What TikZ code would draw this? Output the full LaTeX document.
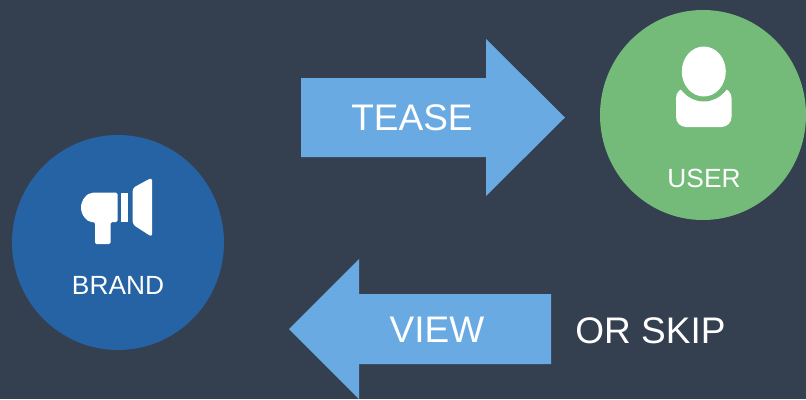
\documentclass[tikz,border=0pt]{standalone}
\usepackage{fontspec}
\setmainfont{Liberation Sans}
\usetikzlibrary{shapes.geometric}
\definecolor{slatebg}{HTML}{344050}
\definecolor{brandblue}{HTML}{2563A5}
\definecolor{usergreen}{HTML}{74BB7A}
\definecolor{arrowblue}{HTML}{6AAAE2}
\begin{document}
\begin{tikzpicture}
[x=1pt,y=-1pt,bigtext/.style = {text = white, font = \fontsize{37}{40}\selectfont, inner sep = 0pt},
smalltext/.style = {text = white, font = \fontsize{26.3}{30}\selectfont, inner sep = 0pt},
bubble/.style = {ellipse, inner sep = 0pt, draw = none},
block/.style = {fill = arrowblue, draw = none},
icon/.style = {fill = white, draw = none, rounded corners = 1.5pt},]

\useasboundingbox (0,0) rectangle (806,399);
\fill [slatebg] (0,0) rectangle (806,399);

\node (brand) at (118,242.5)[bubble, fill = brandblue, minimum width = 212pt, minimum height = 215pt] {};
\node (user) at (703,115)[bubble, fill = usergreen, minimum width = 206pt, minimum height = 210pt] {};

\fill [block] (301,78) -- (486,78) -- (486,39) -- (565,117.5) -- (486,196) -- (486,157) -- (301,157) -- cycle;
\fill [block] (289,329) -- (359,259) -- (359,294) -- (551,294) -- (551,364) -- (359,364) -- (359,399) -- cycle;

\node (tease) at (412,118)[bigtext] {TEASE};
\node (view) at (437,330)[bigtext] {VIEW};
\node (skip) at (650.5,331)[bigtext] {OR SKIP};
\node (brandtext) at (118,285)[smalltext] {BRAND};
\node (usertext) at (704,178)[smalltext] {USER};

% megaphone
\fill [icon] (93,192.7) -- (117.5,192.7) -- (117.5,222) -- (110.7,222) -- (110.7,244) -- (95,244) -- (95,222) -- (93,222)
  [sharp corners] .. controls (87,222) and (81,215) .. (81,207.5) .. controls (81,200) and (87,192.7) .. (93,192.7) -- cycle;
\fill [white] (121,192.5) rectangle (128,222);
\fill [icon, rounded corners = 3pt] (132.7,188) -- (152,177.5) -- (152,237) -- (132.7,224.5) -- cycle;

% person
\fill [icon, rounded corners = 10pt] (676,88) -- (731.5,88) -- (731.5,127) -- (676,127) -- cycle;
\fill [usergreen] (703.8,70) ellipse (29 and 31.5);
\fill [white] (703.8,71.5) ellipse (22 and 25);
\end{tikzpicture}
\end{document}
